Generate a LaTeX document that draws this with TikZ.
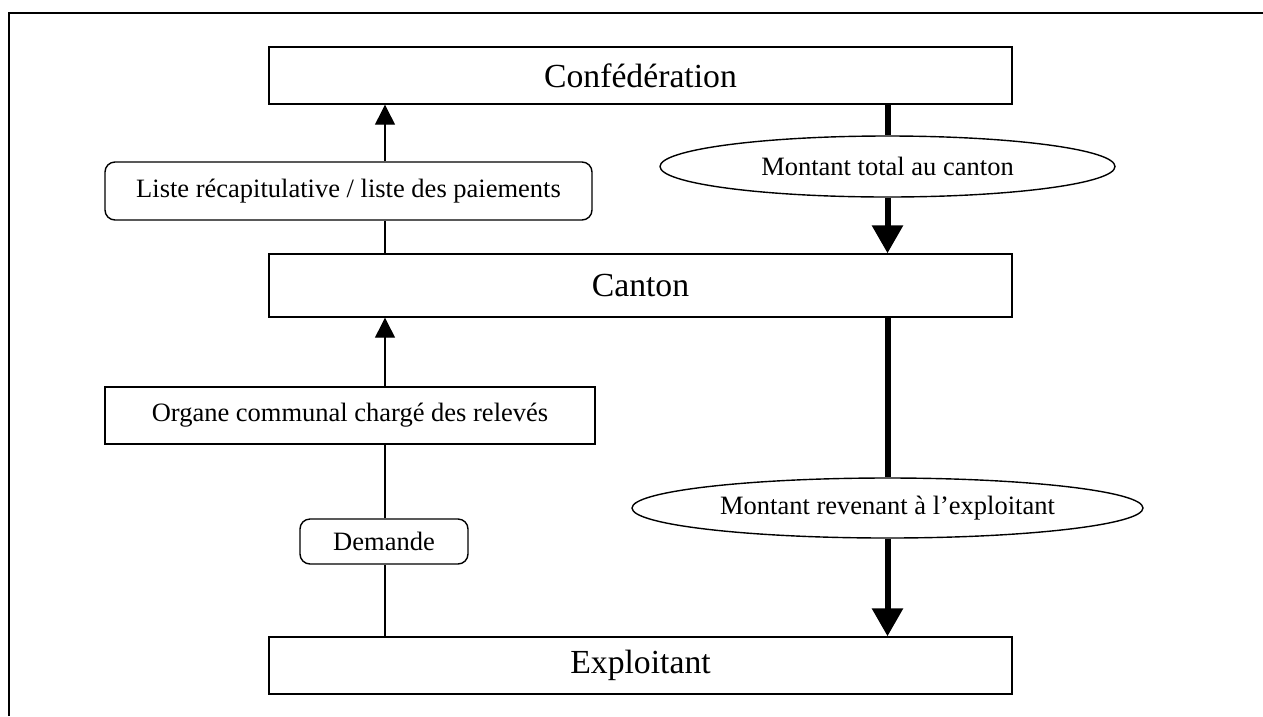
\documentclass[tikz,border=0pt]{standalone}
\usepackage{fontspec}
\setmainfont{Liberation Serif}
\usetikzlibrary{shapes.geometric,arrows.meta,calc}
\tikzset{
  bigbox/.style={draw,line width=1.4pt,rectangle,inner sep=0pt,minimum width=743pt,minimum height=57pt,font=\fontsize{33.7}{40}\selectfont},
  smallbox/.style={draw,line width=1.4pt,rectangle,inner sep=0pt,font=\fontsize{26.5}{32}\selectfont},
  roundbox/.style={smallbox,rounded corners=10pt},
  oval/.style={draw,line width=1.4pt,ellipse,inner sep=0pt,fill=white,font=\fontsize{26.5}{32}\selectfont},
  thin/.style={line width=1.3pt},
  thinarrow/.style={thin,-{Triangle[width=20pt,length=20pt]}},
  thick/.style={line width=6pt},
  thickarrow/.style={thick,-{Triangle[width=30pt,length=28pt]}}
}
\begin{document}
\begin{tikzpicture}[x=1pt,y=-1pt]
\useasboundingbox (0,0) rectangle (1263,716);
% page frame: left and top edges
\draw[line width=2pt] (9,716) -- (9,13) -- (1263,13);

% levels
\node[bigbox] (conf) at (640.5,75.5) {Confédération};
\node[bigbox,minimum height=63pt] (canton) at (640.5,285.5) {Canton};
\node[bigbox] (expl) at (640.5,665.5) {Exploitant};

% documents going up
\node[roundbox,minimum width=487pt,minimum height=58pt] (liste) at (348.5,191) {Liste récapitulative / liste des paiements};
\node[smallbox,minimum width=490pt,minimum height=57pt] (organe) at (350,415.5) {Organe communal chargé des relevés};
\node[roundbox,minimum width=168pt,minimum height=45pt] (demande) at (384,541.5) {Demande};

% payments going down
\node[oval,minimum width=455pt,minimum height=61pt] (total) at (887.5,166.5) {Montant total au canton};
\node[oval,minimum width=511pt,minimum height=60pt] (revenant) at (887.5,508) {Montant revenant à l’exploitant};

\coordinate (lx) at (385,0);
\draw[thin] (lx |- expl.north) -- (lx |- demande.south);
\draw[thin] (lx |- demande.north) -- (lx |- organe.south);
\draw[thinarrow] (lx |- organe.north) -- (lx |- canton.south);
\draw[thin] (lx |- canton.north) -- (lx |- liste.south);
\draw[thinarrow] (lx |- liste.north) -- (lx |- conf.south);

\draw[thick] (total.north |- conf.south) -- (total.north);
\draw[thickarrow] (total.south) -- (total.south |- canton.north);
\draw[thick] (revenant.north |- canton.south) -- (revenant.north);
\draw[thickarrow] (revenant.south) -- (revenant.south |- expl.north);
\end{tikzpicture}
\end{document}
